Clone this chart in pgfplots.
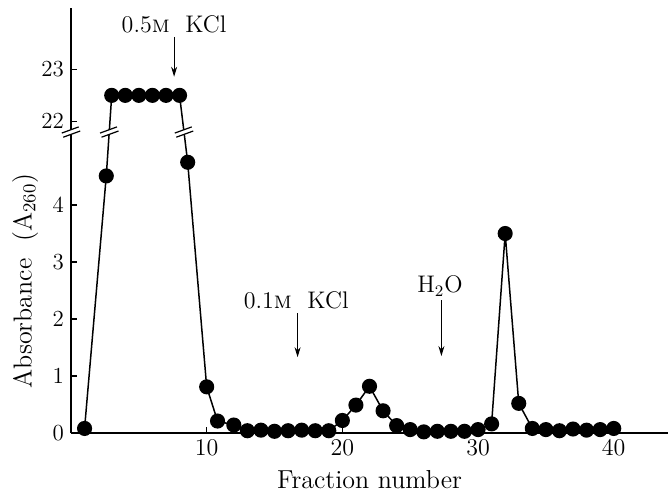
\documentclass[border=0pt]{standalone}
\usepackage{fontspec}
\usepackage{pgfplots}
\pgfplotsset{compat=1.18}
\usetikzlibrary{arrows.meta}
\tikzset{brk/.pic={
  \fill[white] (-4.5pt,-1.1pt) rectangle (4.5pt,1.1pt);
  \draw[line width=0.6pt] (-4.5pt,-1.1pt)--(4.5pt,-1.1pt) (-4.5pt,1.1pt)--(4.5pt,1.1pt);}}
\begin{document}
\begin{tikzpicture}
\begin{axis}[
  at={(0,0)}, anchor=south west,
  scale only axis, width=298.5pt, height=212.5pt,
  xmin=0, xmax=44, ymin=0, ymax=7.456,
  axis x line=bottom, axis y line=left,
  axis line style={-, line width=0.8pt},
  tick align=inside, major tick length=3pt,
  tick style={line width=0.6pt, black},
  xtick={10,20,30,40},
  ytick={0,1,2,3,4,5.47,6.377},
  yticklabels={0,1,2,3,4,22,23},
  ticklabel style={font=\fontsize{11.5}{12}\selectfont},
  y filter/.expression={y>10 ? 5.47+(y-22)*0.907 : y},
  clip=false,
  xlabel={Fraction number},
  xlabel style={at={(rel axis cs:0.5,0)}, anchor=base, yshift=-27.5pt,
    font=\fontsize{13}{14}\selectfont},
]
\addplot[black, line width=0.75pt, mark=*, mark size=3.4pt, mark options={fill=black}]
coordinates {
(1,0.08) (2.6,4.51) (3,22.5) (4,22.5) (5,22.5) (6,22.5) (7,22.5) (8,22.5)
(8.6,4.75) (10,0.81) (10.8,0.21) (12,0.14) (13,0.04) (14,0.05) (15,0.03)
(16,0.04) (17,0.05) (18,0.04) (19,0.04) (20,0.22) (21,0.49) (22,0.82)
(23,0.39) (24,0.13) (25,0.06) (26,0.02) (27,0.03) (28,0.03) (29,0.03)
(30,0.06) (31,0.16) (32,3.5) (33,0.52) (34,0.08) (35,0.06) (36,0.04)
(37,0.07) (38,0.05) (39,0.06) (40,0.08)
};
\path (axis cs:2.82,5.28) pic[rotate=20] {brk};
\path (axis cs:8.33,5.28) pic[rotate=20] {brk};
\path (axis cs:0,5.28) pic[rotate=20] {brk};
% annotations
\draw[-{Stealth[length=5pt,width=3pt]}, line width=0.5pt] (axis cs:7.6,6.95) -- (axis cs:7.6,6.25);
\node[anchor=base, font=\fontsize{12}{13}\selectfont] at (axis cs:7.6,7.02) {0.5\textsc{m}\ \ KCl};
\draw[-{Stealth[length=5pt,width=3pt]}, line width=0.5pt] (axis cs:16.7,2.1) -- (axis cs:16.7,1.33);
\node[anchor=base, font=\fontsize{12}{13}\selectfont] at (axis cs:16.6,2.18) {0.1\textsc{m}\ \ KCl};
\draw[-{Stealth[length=5pt,width=3pt]}, line width=0.5pt] (axis cs:27.3,2.33) -- (axis cs:27.3,1.35);
\node[anchor=base, font=\fontsize{12}{13}\selectfont] at (axis cs:27.2,2.46) {H\textsubscript{2}O};
\node[rotate=90, font=\fontsize{13}{14}\selectfont] at (rel axis cs:-0.077,0.358) {Absorbance\ \ (A\textsubscript{260})};
\end{axis}
\pgfresetboundingbox
\path[use as bounding box] (-35.5pt,-31pt) rectangle (299.5pt,216.5pt);
\end{tikzpicture}
\end{document}
